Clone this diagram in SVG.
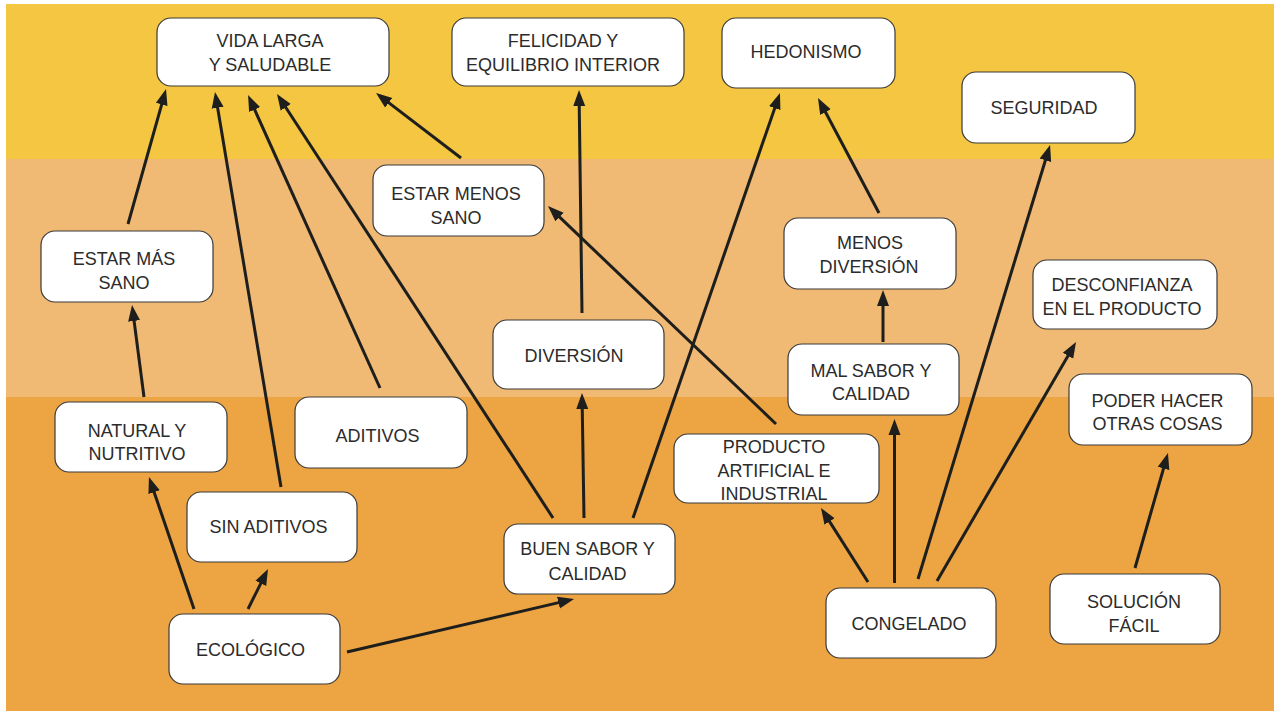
<svg xmlns="http://www.w3.org/2000/svg" width="1274" height="711" viewBox="0 0 1274 711">
<style>
.n rect{fill:#fff;stroke:#3a3a3a;stroke-width:1.2}
.n text{font-family:"Liberation Sans",Arial,sans-serif;font-size:18px;fill:#2b2b2b;text-anchor:middle}
.c line{stroke:#1e1f1c;stroke-width:3;marker-end:url(#ah)}
</style>
<defs>
<marker id="ah" markerUnits="userSpaceOnUse" markerWidth="17" markerHeight="13" refX="10" refY="6.5" orient="auto">
<path d="M0,0.5 L16,6.5 L0,12.5 z" fill="#1e1f1c"/>
</marker>
</defs>
<rect x="0" y="0" width="1274" height="711" fill="#fff"/>
<rect x="6" y="4" width="1268" height="156" fill="#F4C641"/>
<rect x="6" y="159" width="1268" height="239" fill="#F1BA74"/>
<rect x="6" y="397" width="1268" height="314" fill="#EDA443"/>
<g id="connectors" class="c">
<line x1="128" y1="224" x2="164.4" y2="94.8"/>
<line x1="281" y1="487" x2="216" y2="97.9"/>
<line x1="380" y1="388" x2="250.5" y2="100.5"/>
<line x1="553" y1="518" x2="280.3" y2="99"/>
<line x1="461" y1="158" x2="380.8" y2="96.6"/>
<line x1="582" y1="313" x2="579.1" y2="96"/>
<line x1="584" y1="518" x2="582.1" y2="399"/>
<line x1="633" y1="518" x2="778" y2="98.7"/>
<line x1="776" y1="424" x2="552.3" y2="210.1"/>
<line x1="879" y1="213" x2="820.8" y2="103.3"/>
<line x1="883" y1="342" x2="883" y2="296"/>
<line x1="894.5" y1="583" x2="894.5" y2="425"/>
<line x1="868" y1="582" x2="824.2" y2="513.1"/>
<line x1="918" y1="579" x2="1048.3" y2="150.7"/>
<line x1="937" y1="581" x2="1073" y2="347.2"/>
<line x1="1135" y1="568" x2="1166.3" y2="458.8"/>
<line x1="144" y1="397" x2="132.8" y2="311"/>
<line x1="194" y1="609" x2="150.9" y2="482.7"/>
<line x1="248" y1="609" x2="265.3" y2="574.4"/>
<line x1="347" y1="652" x2="568.2" y2="600.4"/>
</g>
<g id="vida" class="n"><rect x="157" y="18" width="232" height="68" rx="14"/><text x="270" y="47">VIDA LARGA</text><text x="270" y="71">Y SALUDABLE</text></g>
<g id="felicidad" class="n"><rect x="452" y="18" width="232" height="68" rx="14"/><text x="563" y="47">FELICIDAD Y</text><text x="563" y="71">EQUILIBRIO INTERIOR</text></g>
<g id="hedonismo" class="n"><rect x="722" y="18" width="173" height="70" rx="14"/><text x="806" y="58">HEDONISMO</text></g>
<g id="seguridad" class="n"><rect x="962" y="72" width="173" height="71" rx="14"/><text x="1044" y="114">SEGURIDAD</text></g>
<g id="estar-menos-sano" class="n"><rect x="373" y="165" width="171" height="71" rx="14"/><text x="456" y="200">ESTAR MENOS</text><text x="456" y="224">SANO</text></g>
<g id="estar-mas-sano" class="n"><rect x="41" y="231" width="172" height="71" rx="14"/><text x="124" y="265">ESTAR MÁS</text><text x="124" y="289">SANO</text></g>
<g id="menos-diversion" class="n"><rect x="784" y="218" width="172" height="71" rx="14"/><text x="870" y="249">MENOS</text><text x="869" y="273">DIVERSIÓN</text></g>
<g id="desconfianza" class="n"><rect x="1033" y="260" width="184" height="69" rx="14"/><text x="1122" y="291">DESCONFIANZA</text><text x="1122" y="315">EN EL PRODUCTO</text></g>
<g id="diversion" class="n"><rect x="493" y="320" width="171" height="69" rx="14"/><text x="574" y="362">DIVERSIÓN</text></g>
<g id="mal-sabor" class="n"><rect x="788" y="344" width="171" height="71" rx="14"/><text x="871" y="377">MAL SABOR Y</text><text x="871" y="400">CALIDAD</text></g>
<g id="poder-hacer" class="n"><rect x="1069" y="374" width="183" height="71" rx="14"/><text x="1157.5" y="407">PODER HACER</text><text x="1157.5" y="430">OTRAS COSAS</text></g>
<g id="natural" class="n"><rect x="55" y="402" width="172" height="70" rx="14"/><text x="137" y="437">NATURAL Y</text><text x="137" y="460">NUTRITIVO</text></g>
<g id="aditivos" class="n"><rect x="295" y="397" width="172" height="71" rx="14"/><text x="377.5" y="442">ADITIVOS</text></g>
<g id="producto" class="n"><rect x="674" y="434" width="205" height="69" rx="14"/><text x="774" y="453">PRODUCTO</text><text x="774" y="477">ARTIFICIAL E</text><text x="774" y="500">INDUSTRIAL</text></g>
<g id="sin-aditivos" class="n"><rect x="187" y="492" width="170" height="70" rx="14"/><text x="268.5" y="533">SIN ADITIVOS</text></g>
<g id="buen-sabor" class="n"><rect x="504" y="524" width="171" height="70" rx="14"/><text x="587.5" y="555">BUEN SABOR Y</text><text x="587.5" y="580">CALIDAD</text></g>
<g id="ecologico" class="n"><rect x="169" y="614" width="171" height="70" rx="14"/><text x="250.5" y="656">ECOLÓGICO</text></g>
<g id="congelado" class="n"><rect x="826" y="588" width="170" height="70" rx="14"/><text x="909" y="630">CONGELADO</text></g>
<g id="solucion" class="n"><rect x="1050" y="574" width="170" height="70" rx="14"/><text x="1134" y="608">SOLUCIÓN</text><text x="1134" y="632">FÁCIL</text></g>
</svg>
